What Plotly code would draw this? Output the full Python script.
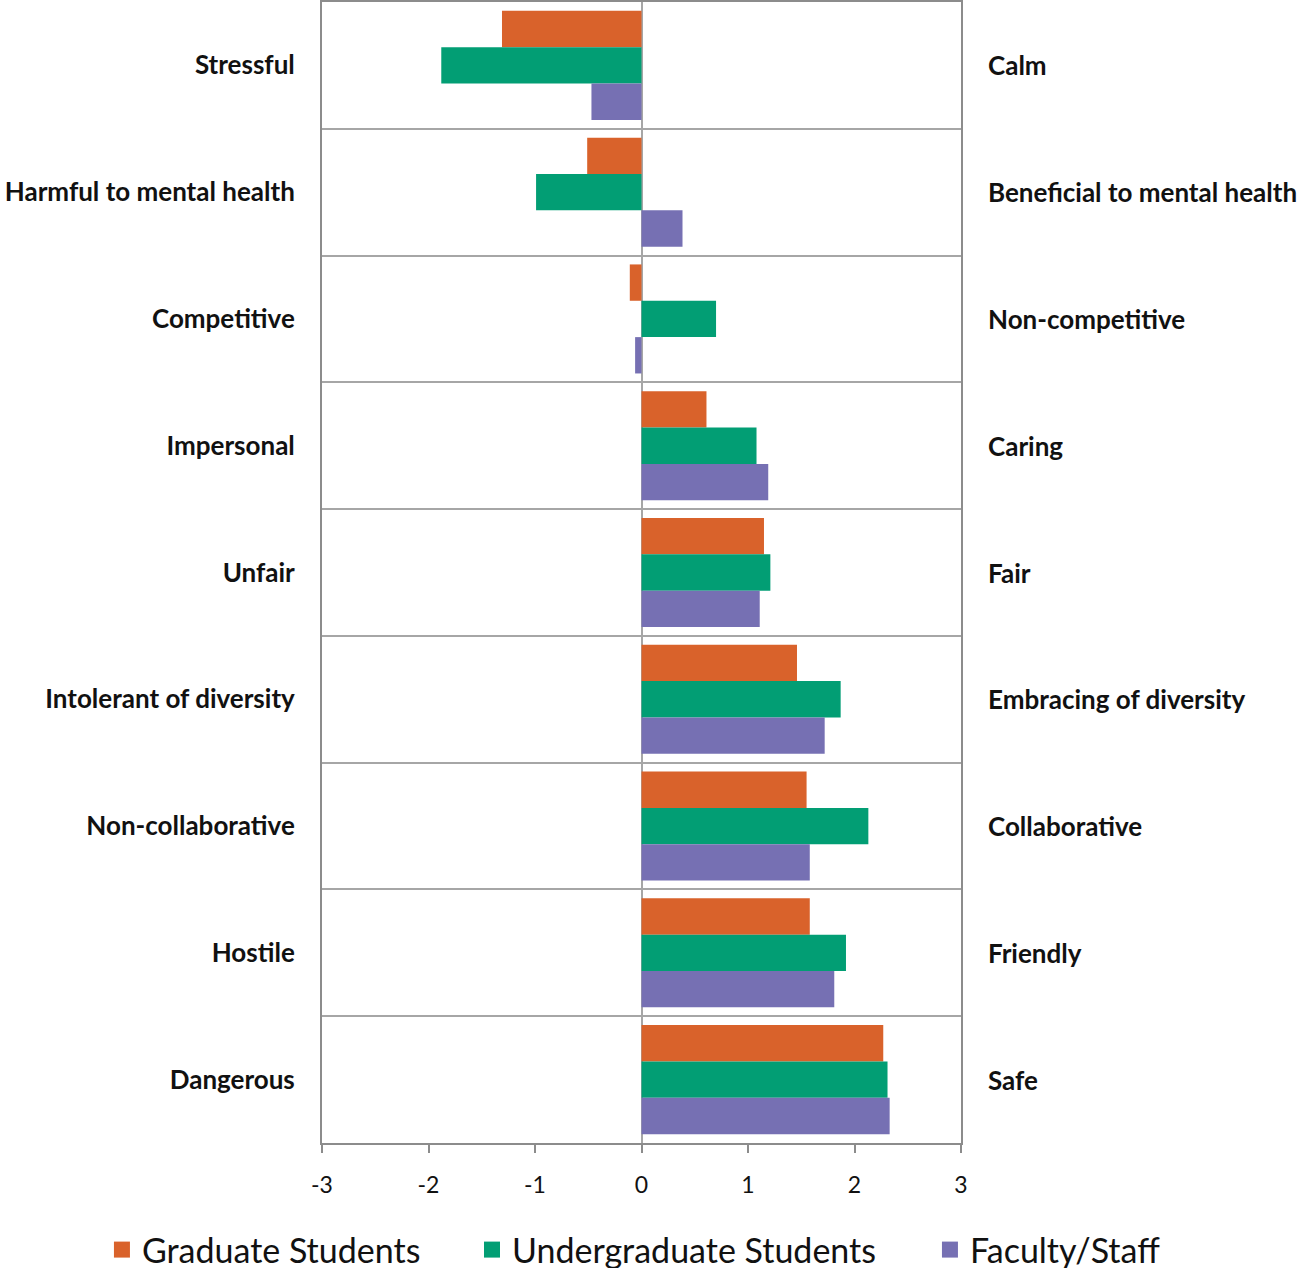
import plotly.graph_objects as go

# Semantic-differential pairs (negative pole, positive pole), top to bottom
neg_labels = ["Stressful", "Harmful to mental health", "Competitive", "Impersonal",
              "Unfair", "Intolerant of diversity", "Non-collaborative", "Hostile", "Dangerous"]
pos_labels = ["Calm", "Beneficial to mental health", "Non-competitive", "Caring",
              "Fair", "Embracing of diversity", "Collaborative", "Friendly", "Safe"]

# Mean ratings on a -3 .. 3 scale
graduate = [-1.31, -0.51, -0.11, 0.61, 1.15, 1.46, 1.55, 1.58, 2.27]
undergraduate = [-1.88, -0.99, 0.70, 1.08, 1.21, 1.87, 2.13, 1.92, 2.31]
faculty = [-0.47, 0.385, -0.06, 1.19, 1.11, 1.72, 1.58, 1.81, 2.33]

series = [
    ("Graduate Students", graduate, "#d9622b"),
    ("Undergraduate Students", undergraduate, "#029e74"),
    ("Faculty/Staff", faculty, "#7670b3"),
]

x_ticks = [-3, -2, -1, 0, 1, 2, 3]

FRAME = "#8c8c8c"
GRID = "#a6a6a6"
LABEL_FONT = dict(family="Lato", size=26, color="#111111", weight="bold")
LEGEND_FONT = dict(family="Lato", size=34, color="#111111")

fig = go.Figure()
for name, vals, color in series:
    fig.add_trace(go.Bar(
        y=neg_labels, x=vals, orientation="h", name=name,
        marker=dict(color=color, line=dict(width=0)),
        showlegend=False,
    ))

# One single-entry legend per series so they sit side by side in one row
legend_ids = ["legend", "legend2", "legend3"]
legend_left = [0.0786, 0.3639, 0.7170]
for (name, vals, color), lid in zip(series, legend_ids):
    fig.add_trace(go.Scatter(
        x=[None], y=[None], mode="markers", name=name, legend=lid,
        marker=dict(symbol="square", size=16, color=color),
    ))

# Positive-pole labels on the right side of the plot
for lab, pos in zip(neg_labels, pos_labels):
    fig.add_annotation(
        x=1, xref="paper", y=lab, yref="y", text=pos, showarrow=False,
        xanchor="left", xshift=25, font=LABEL_FONT,
    )

legend_layout = {
    lid: dict(
        orientation="h", xref="container", x=lx, xanchor="left",
        yref="container", y=0.0142, yanchor="middle",
        font=LEGEND_FONT, itemwidth=30, bgcolor="rgba(0,0,0,0)",
    )
    for lid, lx in zip(legend_ids, legend_left)
}

fig.update_layout(
    width=1297, height=1268,
    margin=dict(l=322, r=336, t=2, b=125, autoexpand=False),
    paper_bgcolor="white", plot_bgcolor="white",
    barmode="group", bargap=0.14, bargroupgap=0,
    showlegend=True,
    **legend_layout,
    xaxis=dict(
        range=[-3, 3], tickvals=x_ticks, ticktext=[str(v) for v in x_ticks],
        showgrid=False, zeroline=True, zerolinecolor=GRID, zerolinewidth=1.5,
        showline=True, linecolor=FRAME, linewidth=2, mirror=True,
        ticks="outside", ticklen=8, tickcolor=FRAME, tickwidth=1.5,
        tickfont=dict(family="Lato", size=23, color="#111111"),
        ticklabelstandoff=12,
    ),
    yaxis=dict(
        type="category", categoryarray=neg_labels, autorange="reversed",
        tickson="boundaries", showgrid=True, gridcolor=GRID, gridwidth=1.5,
        ticks="", showline=True, linecolor=FRAME, linewidth=2, mirror=True,
        tickfont=LABEL_FONT, ticklabelstandoff=20,
    ),
)

fig.write_html("out.html")
